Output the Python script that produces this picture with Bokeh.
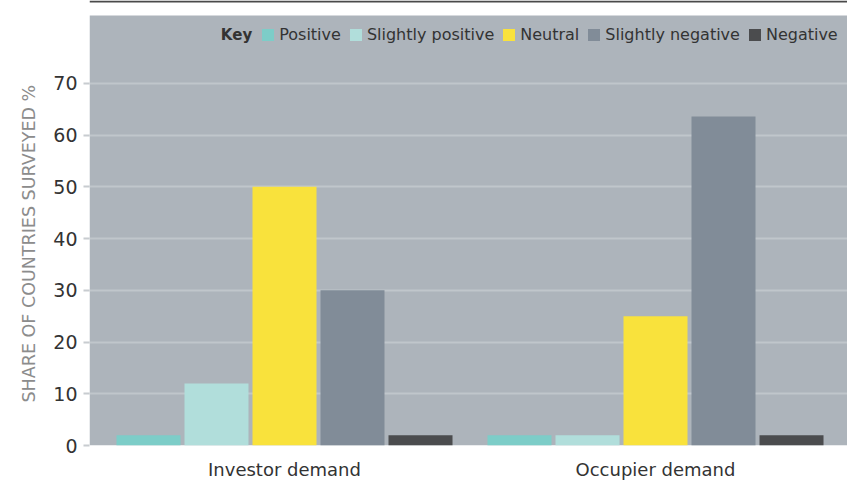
from bokeh.plotting import figure
from bokeh.models import (Range1d, FixedTicker, BoxAnnotation, Span, Label,
                          Legend, LegendItem, Title)
from bokeh.embed import file_html
from bokeh.resources import INLINE

# ---- data ----
categories = ["Investor demand", "Occupier demand"]
series = ["Positive", "Slightly positive", "Neutral", "Slightly negative", "Negative"]
positive = [2, 2]
slightly_positive = [12, 2]
neutral = [50, 25]
slightly_negative = [30, 63.6]
negative = [2, 2]
y_ticks = [0, 10, 20, 30, 40, 50, 60, 70]
y_title = "SHARE OF COUNTRIES SURVEYED %"

values = [positive, slightly_positive, neutral, slightly_negative, negative]
colors = ["#7dcdc8", "#b1dedb", "#f9e23c", "#818c98", "#4b4c4e"]

FONT = "DejaVu Sans"
TXT = "#333333"

p = figure(width=847, height=482, output_backend="svg", toolbar_location=None,
           x_range=Range1d(-0.0256, 2.0175), y_range=Range1d(0, 86.0),
           min_border_left=89, min_border_right=0, min_border_top=0,
           min_border_bottom=36)
p.background_fill_color = "white"
p.border_fill_color = "white"
p.outline_line_color = None

# gray plotting panel and top rule
panel = BoxAnnotation(top=83.1, fill_color="#adb4bb", fill_alpha=1.0,
                      line_color=None, level="image")
p.add_layout(panel)
p.add_layout(Span(location=85.8, dimension="width", line_color="#4a4a4a",
                  line_width=2))

step = 0.1833
bw = 0.1725
renderers = []
for j, (name, vals, col) in enumerate(zip(series, values, colors)):
    xs = [i + 0.5 + (j - 2) * step for i in range(len(categories))]
    r = p.vbar(x=xs, top=vals, width=bw, fill_color=col, line_color=None)
    renderers.append(r)

# axes
p.yaxis.ticker = FixedTicker(ticks=y_ticks)
p.yaxis.axis_line_color = None
p.yaxis.major_tick_in = 0
p.yaxis.major_tick_out = 6
p.yaxis.major_tick_line_color = "#c8ccd0"
p.yaxis.major_tick_line_width = 2
p.yaxis.minor_tick_line_color = None
p.yaxis.major_label_standoff = 6
p.yaxis.major_label_text_font = FONT
p.yaxis.major_label_text_font_size = "19px"
p.yaxis.major_label_text_color = TXT

p.xaxis.ticker = FixedTicker(ticks=[i + 0.5 for i in range(len(categories))])
p.xaxis.major_label_overrides = {i + 0.5: c for i, c in enumerate(categories)}
p.xaxis.axis_line_color = None
p.xaxis.major_tick_line_color = None
p.xaxis.minor_tick_line_color = None
p.xaxis.major_tick_out = 0
p.xaxis.major_label_standoff = 13
p.xaxis.major_label_text_font = FONT
p.xaxis.major_label_text_font_size = "18px"
p.xaxis.major_label_text_color = TXT

p.xgrid.visible = False
p.ygrid.ticker = FixedTicker(ticks=y_ticks)
p.ygrid.grid_line_color = "#c0c6cb"
p.ygrid.grid_line_width = 2

# y title as a left-side title (allows offset along the axis)
p.add_layout(Title(text=y_title, align="left", offset=43, standoff=23,
                   text_font=FONT, text_font_size="17.5px",
                   text_font_style="normal", text_color="#8c8c8c"), "left")

# legend
legend = Legend(items=[LegendItem(label=s, renderers=[r])
                       for s, r in zip(series, renderers)],
                orientation="horizontal", location=(171.2, 401.4),
                padding=0, margin=0, spacing=7, label_standoff=4,
                glyph_width=15, glyph_height=15, label_height=15,
                label_text_font=FONT, label_text_font_size="16px",
                label_text_color=TXT,
                background_fill_alpha=0, border_line_color=None)
p.add_layout(legend)
p.add_layout(Label(x=0.4129, y=79.26, text="Key", text_align="right",
                   text_baseline="middle", text_font=FONT,
                   text_font_size="15px", text_font_style="bold",
                   text_color=TXT))

open("out.html", "w").write(file_html(p, INLINE))
